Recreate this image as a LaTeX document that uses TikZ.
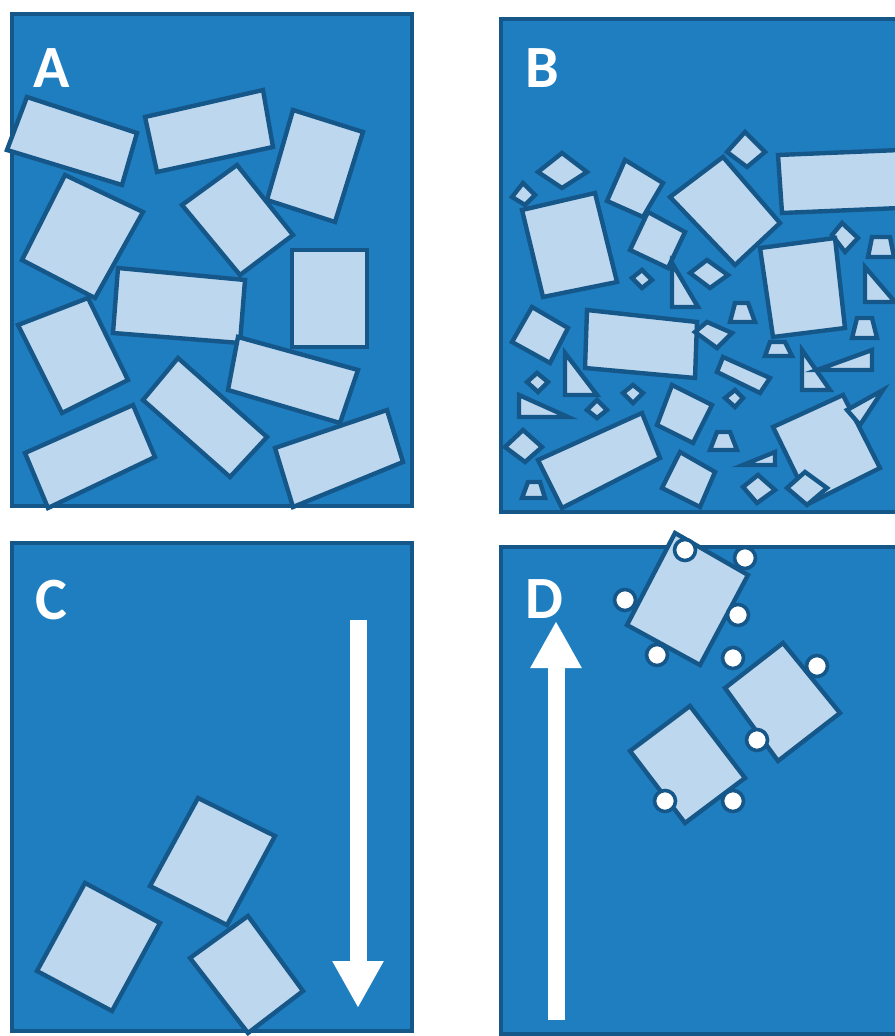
\documentclass[tikz,border=0pt]{standalone}
\usepackage{fontspec}
\setmainfont{Carlito}
\usetikzlibrary{arrows.meta}
\definecolor{panelblue}{HTML}{1F7EC0}
\definecolor{edgeblue}{HTML}{16578A}
\definecolor{pieceblue}{HTML}{BDD7EE}

\begin{document}
\begin{tikzpicture}[x=0.5pt, y=-0.5pt,
    panel/.style={draw=edgeblue, fill=panelblue, line width=2.4pt},
    piece/.style={draw=edgeblue, fill=pieceblue, line width=2.2pt, line join=miter},
    pin/.style={circle, draw=edgeblue, fill=white, line width=1.8pt,
                minimum size=10.5pt, inner sep=0pt},
    tag/.style={text=white, font=\fontsize{30}{30}\selectfont\bfseries,
                inner sep=0pt, anchor=base west},
    flow/.style={white, line width=8.5pt, -{Triangle[width=24pt, length=23.5pt]}}]
  \useasboundingbox[fill=white] (0,0) rectangle (894,1036);

  % A: loose packing
  \draw[panel] (12,14) rectangle (412,506);
  \draw[piece] (27,97) -- (137,133) -- (122,185) -- (7,150) -- cycle;
  \draw[piece] (145,117) -- (263,90) -- (273,147) -- (157,172) -- cycle;
  \draw[piece] (293,110) -- (363,132) -- (335,222) -- (267,200) -- cycle;
  \draw[piece] (65,175) -- (143,212) -- (95,298) -- (22,260) -- cycle;
  \draw[piece] (182,205) -- (237,165) -- (293,235) -- (240,275) -- cycle;
  \draw[piece] (292,250) rectangle (367,347);
  \draw[piece] (118,268) -- (245,280) -- (240,343) -- (113,333) -- cycle;
  \draw[piece] (18,325) -- (88,298) -- (128,380) -- (62,413) -- cycle;
  \draw[piece] (238,337) -- (358,370) -- (340,423) -- (228,390) -- cycle;
  \draw[piece] (143,400) -- (178,358) -- (267,437) -- (230,477) -- cycle;
  \draw[piece] (25,453) -- (133,405) -- (155,457) -- (48,508) -- cycle;
  \draw[piece] (275,448) -- (387,410) -- (403,462) -- (293,507) -- cycle;
  \node[tag] (tagA) at (33,88) {A};

  % B: mixed shapes
  \draw[panel] (501,19) rectangle (905,512);
  \draw[piece] (522,210) -- (595,193) -- (617,282) -- (543,297) -- cycle;
  \draw[piece] (723,157) -- (780,223) -- (735,265) -- (670,197) -- cycle;
  \draw[piece] (625,160) -- (663,183) -- (643,217) -- (607,201) -- cycle;
  \draw[piece] (648,212) -- (685,232) -- (668,268) -- (630,250) -- cycle;
  \draw[piece] (745,132) -- (765,152) -- (747,167) -- (727,152) -- cycle;
  \draw[piece] (778,155) -- (900,150) -- (900,208) -- (782,213) -- cycle;
  \draw[piece] (562,153) -- (587,172) -- (562,188) -- (538,172) -- cycle;
  \draw[piece] (523,183) -- (535,195) -- (525,205) -- (512,197) -- cycle;
  \draw[piece] (842,223) -- (858,238) -- (845,252) -- (832,235) -- cycle;
  \draw[piece] (872,237) -- (890,237) -- (894,257) -- (868,257) -- cycle;
  \draw[piece] (760,248) -- (835,238) -- (845,328) -- (773,337) -- cycle;
  \draw[piece] (642,270) -- (652,280) -- (642,288) -- (632,278) -- cycle;
  \draw[piece] (672,263) -- (672,307) -- (698,307) -- cycle;
  \draw[piece] (707,260) -- (728,275) -- (710,288) -- (690,273) -- cycle;
  \draw[piece] (865,267) -- (865,302) -- (895,302) -- cycle;
  \draw[piece] (735,303) -- (748,303) -- (755,322) -- (730,322) -- cycle;
  \draw[piece] (857,318) -- (872,318) -- (877,338) -- (852,338) -- cycle;
  \draw[piece] (770,342) -- (785,342) -- (792,356) -- (765,356) -- cycle;
  \draw[piece] (532,307) -- (568,328) -- (550,363) -- (512,342) -- cycle;
  \draw[piece] (587,310) -- (697,322) -- (695,378) -- (585,368) -- cycle;
  \draw[piece] (707,322) -- (732,333) -- (717,348) -- (695,332) -- cycle;
  \draw[piece] (565,353) -- (565,395) -- (597,395) -- cycle;
  \draw[piece] (537,373) -- (548,382) -- (538,392) -- (527,382) -- cycle;
  \draw[piece] (519,395) -- (519,417) -- (568,417) -- cycle;
  \draw[piece] (597,400) -- (607,410) -- (597,418) -- (587,410) -- cycle;
  \draw[piece] (633,385) -- (643,393) -- (633,403) -- (623,393) -- cycle;
  \draw[piece] (723,357) -- (770,378) -- (760,393) -- (717,372) -- cycle;
  \draw[piece] (735,390) -- (743,398) -- (735,407) -- (725,398) -- cycle;
  \draw[piece] (672,385) -- (712,405) -- (693,443) -- (657,425) -- cycle;
  \draw[piece] (802,350) -- (802,390) -- (830,390) -- cycle;
  \draw[piece] (817,370) -- (872,350) -- (872,370) -- cycle;
  \draw[piece] (538,460) -- (642,413) -- (660,458) -- (562,508) -- cycle;
  \draw[piece] (523,430) -- (542,447) -- (525,462) -- (505,447) -- cycle;
  \draw[piece] (528,482) -- (540,482) -- (545,498) -- (522,498) -- cycle;
  \draw[piece] (680,452) -- (715,472) -- (700,507) -- (662,488) -- cycle;
  \draw[piece] (717,432) -- (730,432) -- (737,450) -- (710,450) -- cycle;
  \draw[piece] (743,465) -- (775,452) -- (775,465) -- cycle;
  \draw[piece] (773,427) -- (843,395) -- (880,468) -- (810,503) -- cycle;
  \draw[piece] (847,410) -- (883,390) -- (860,425) -- cycle;
  \draw[piece] (743,487) -- (758,475) -- (775,490) -- (757,503) -- cycle;
  \draw[piece] (787,488) -- (805,472) -- (827,488) -- (807,505) -- cycle;
  \node[tag] (tagB) at (525,88) {B};

  % C: pieces settle down
  \draw[panel] (12,543) rectangle (412,1031);
  \draw[piece] (198,798) -- (275,836) -- (227,925) -- (150,886) -- cycle;
  \draw[piece] (85,883) -- (160,923) -- (112,1011) -- (37,971) -- cycle;
  \draw[piece] (248,916) -- (303,991) -- (248,1033) -- (190,958) -- cycle;
  \coordinate (sinkTop) at (358,620);
  \coordinate (sinkEnd) at (358,1008);
  \draw[flow] (sinkTop) -- (sinkEnd);
  \node[tag] (tagC) at (35,619) {C};

  % D: pieces with bubbles rise
  \draw[panel] (501,547) rectangle (905,1034);
  \draw[piece] (675,533) -- (748,575) -- (700,665) -- (627,625) -- cycle;
  \node[pin] (p1) at (685,550) {};
  \node[pin] (p2) at (745,558) {};
  \node[pin] (p3) at (625,600) {};
  \node[pin] (p4) at (738,615) {};
  \node[pin] (p5) at (657,655) {};
  \draw[piece] (783,643) -- (840,713) -- (778,761) -- (725,688) -- cycle;
  \node[pin] (p6) at (733,658) {};
  \node[pin] (p7) at (817,666) {};
  \node[pin] (p8) at (757,740) {};
  \draw[piece] (690,706) -- (745,778) -- (685,823) -- (630,751) -- cycle;
  \node[pin] (p9) at (665,801) {};
  \node[pin] (p10) at (733,801) {};
  \coordinate (riseLow) at (556,1020);
  \coordinate (riseTop) at (556,621);
  \draw[flow] (riseLow) -- (riseTop);
  \node[tag] (tagD) at (525,618) {D};
\end{tikzpicture}
\end{document}
